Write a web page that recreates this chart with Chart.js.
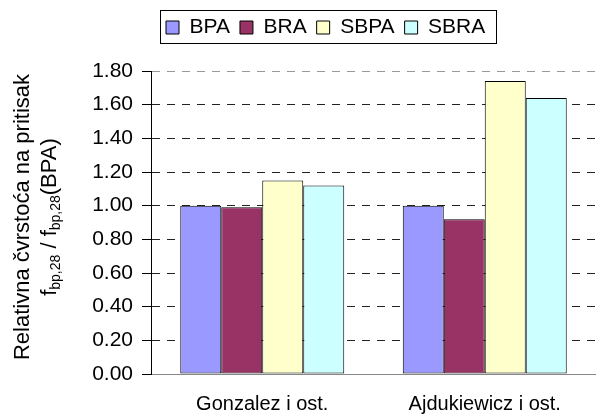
<!DOCTYPE html>
<html>
<head>
<meta charset="utf-8">
<script src="https://cdn.jsdelivr.net/npm/chart.js@4.4.1/dist/chart.umd.min.js"></script>
<style>
  html, body { margin: 0; padding: 0; background: #fff; }
  #wrap { width: 596px; height: 416px; }
</style>
</head>
<body>
<div id="wrap"><canvas id="chart" width="596" height="416"></canvas></div>
<script>
// Data
const categories = ['Gonzalez i ost.', 'Ajdukiewicz i ost.'];
const seriesNames = ['BPA', 'BRA', 'SBPA', 'SBRA'];
const bpaValues = [1.00, 1.00];
const braValues = [0.99, 0.92];
const sbpaValues = [1.15, 1.74];
const sbraValues = [1.12, 1.64];
const yTicks = [0, 0.2, 0.4, 0.6, 0.8, 1.0, 1.2, 1.4, 1.6, 1.8];

// Styles
const seriesColors = ['#9999FF', '#993366', '#FFFFCC', '#CCFFFF'];
const FONT = "'Liberation Sans', Arial, sans-serif";

const allSeries = [bpaValues, braValues, sbpaValues, sbraValues];

// Legend: extra space under it, shifted right, with a frame
const legendTweaks = {
    id: 'legendTweaks',
    beforeLayout(chart) {
        const lg = chart.legend;
        if (lg && !lg._wrapped) {
            const fit = lg.fit.bind(lg);
            lg.fit = function () { fit(); this.height += 23; };
            lg._wrapped = true;
        }
    },
    afterLayout(chart) {
        const lg = chart.legend;
        lg.left += 156;
        lg.right += 156;
    },
    afterDraw(chart) {
        const boxes = chart.legend.legendHitBoxes;
        if (!boxes || !boxes.length) return;
        const first = boxes[0];
        const last = boxes[boxes.length - 1];
        const ctx = chart.ctx;
        const x1 = Math.round(first.left - 6) + 0.5;
        const x2 = Math.round(last.left + last.width + 11) + 0.5;
        const y1 = Math.round(first.top - 7) + 0.5;
        const y2 = Math.round(first.top + first.height + 5) + 0.5;
        ctx.save();
        ctx.strokeStyle = '#000';
        ctx.lineWidth = 1;
        ctx.strokeRect(x1, y1, x2 - x1, y2 - y1);
        ctx.restore();
    }
};

// Two-line y axis title with subscripts
const yTitle = {
    id: 'yTitle',
    afterDraw(chart) {
        const ctx = chart.ctx;
        const cy = 217;
        ctx.save();
        ctx.fillStyle = '#000';
        ctx.textBaseline = 'middle';

        // line 1
        ctx.save();
        ctx.translate(23, cy);
        ctx.rotate(-Math.PI / 2);
        ctx.font = '22px ' + FONT;
        ctx.textAlign = 'center';
        ctx.fillText('Relativna čvrstoća na pritisak', 0, 0);
        ctx.restore();

        // line 2: f_bp,28 / f_bp,28(BPA)
        const parts = [
            ['f', false], ['bp,28', true], [' / f', false], ['bp,28', true], ['(BPA)', false]
        ];
        const big = '22px ' + FONT;
        const small = '14px ' + FONT;
        let total = 0;
        parts.forEach(p => {
            ctx.font = p[1] ? small : big;
            total += ctx.measureText(p[0]).width;
        });
        ctx.save();
        ctx.translate(50, cy);
        ctx.rotate(-Math.PI / 2);
        ctx.textAlign = 'left';
        let x = -total / 2;
        parts.forEach(p => {
            ctx.font = p[1] ? small : big;
            ctx.fillText(p[0], x, p[1] ? 6 : 0);
            x += ctx.measureText(p[0]).width;
        });
        ctx.restore();
        ctx.restore();
    }
};

const ctx = document.getElementById('chart').getContext('2d');
new Chart(ctx, {
    type: 'bar',
    data: {
        labels: categories,
        datasets: seriesNames.map((name, i) => ({
            label: name,
            data: allSeries[i],
            backgroundColor: seriesColors[i],
            borderColor: '#000',
            borderWidth: 1,
            borderSkipped: false,
            barPercentage: 1,
            categoryPercentage: 0.737
        }))
    },
    options: {
        responsive: false,
        animation: false,
        layout: { padding: { top: 7, left: 0, right: 0, bottom: 0 } },
        plugins: {
            legend: {
                position: 'top',
                align: 'start',
                labels: {
                    boxWidth: 13,
                    boxHeight: 13,
                    padding: 10,
                    color: '#000',
                    font: { family: FONT, size: 21 }
                }
            },
            tooltip: { enabled: false }
        },
        scales: {
            x: {
                grid: { display: false, drawTicks: false },
                border: { display: true, color: '#888', width: 1 },
                ticks: {
                    color: '#000',
                    padding: 18,
                    font: { family: FONT, size: 20 }
                },
                afterFit(scale) { scale.height = 42; }
            },
            y: {
                min: 0,
                max: 1.8,
                afterBuildTicks(scale) { scale.ticks = yTicks.map(v => ({ value: v })); },
                afterFit(scale) { scale.width = 151; },
                grid: {
                    color: c => (c.tick && (c.tick.value === 0 || Math.abs(c.tick.value - 1.8) < 1e-6)) ? '#999' : '#222',
                    lineWidth: 1,
                    drawTicks: true,
                    tickLength: 9,
                    tickColor: '#000',
                    tickBorderDash: []
                },
                border: { display: true, color: '#000', width: 1, dash: [8, 7] },
                ticks: {
                    color: '#000',
                    padding: 9,
                    font: { family: FONT, size: 21 },
                    callback: v => Number(v).toFixed(2)
                }
            }
        }
    },
    plugins: [legendTweaks, yTitle]
});
</script>
</body>
</html>
